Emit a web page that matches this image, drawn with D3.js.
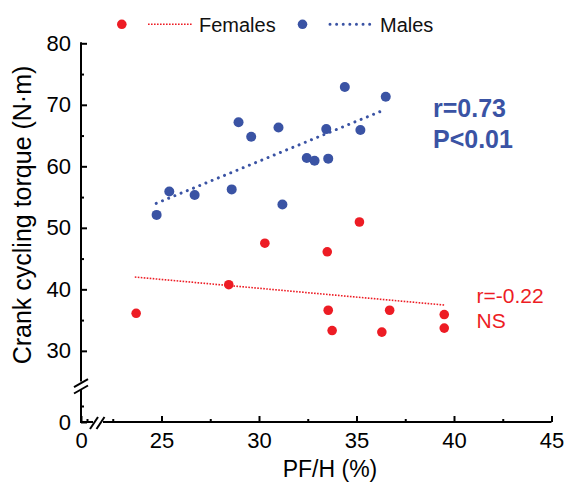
<!DOCTYPE html>
<html>
<head>
<meta charset="utf-8">
<script src="https://cdn.jsdelivr.net/npm/d3@7"></script>
<style>
  html, body { margin: 0; padding: 0; background: #fff; }
  svg { display: block; font-family: "Liberation Sans", Arial, Helvetica, sans-serif; }
</style>
</head>
<body>
<svg id="chart" width="567" height="484"></svg>
<script>
// ---- data ----
const femalesX = [23.7, 28.45, 30.3, 33.5, 35.15, 33.55, 36.7, 39.5, 33.75, 36.3, 39.5];
const femalesY = [36.1, 40.75, 47.5, 46.1, 50.95, 36.6, 36.6, 35.9, 33.3, 33.05, 33.7];
const malesX = [24.75, 25.4, 26.7, 28.6, 28.95, 29.6, 31.0, 31.2, 32.45, 32.85, 33.45, 33.55, 34.4, 35.2, 36.5];
const malesY = [52.1, 55.9, 55.35, 56.25, 67.15, 64.8, 66.3, 53.8, 61.35, 60.9, 66.05, 61.25, 72.9, 65.9, 71.3];
const femalesFitX = [23.63, 39.5];
const femalesFitY = [42.0, 37.45];
const malesFitX = [24.73, 36.5];
const malesFitY = [53.98, 69.27];
const xMajorTicks = [0, 25, 30, 35, 40, 45];
const xMinorTicks = [0.5, 22.5, 27.5, 32.5, 37.5, 42.5];
const yMajorTicks = [0, 30, 40, 50, 60, 70, 80];
const yMinorTicks = [2.5, 35, 45, 55, 65, 75];
const seriesNames = ["Females", "Males"];
const femaleStats = ["r=-0.22", "NS"];
const maleStats = ["r=0.73", "P<0.01"];
const xTitle = "PF/H (%)";
const yTitle = "Crank cycling torque (N\u00B7m)";

// ---- styles ----
const RED = "#ED1C24";
const BLUE = "#3A53A4";

const svg = d3.select("#chart");

// broken axes: polylinear scales
const x = d3.scaleLinear().domain([0, 1, 22, 45]).range([81, 93, 103, 551.5]);
const y = d3.scaleLinear().domain([0, 5, 25, 80]).range([422, 390, 381.6, 43.3]);

// axis lines (with gaps for the breaks)
const axisG = svg.append("g").attr("stroke", "#000").attr("stroke-width", 2).attr("fill", "none");
axisG.append("line").attr("x1", x(0)).attr("x2", x(1)).attr("y1", y(0)).attr("y2", y(0));
axisG.append("line").attr("x1", x(22)).attr("x2", x(45)).attr("y1", y(0)).attr("y2", y(0));
axisG.append("line").attr("x1", x(0)).attr("x2", x(0)).attr("y1", y(0) + 1).attr("y2", y(5));
axisG.append("line").attr("x1", x(0)).attr("x2", x(0)).attr("y1", y(25)).attr("y2", y(80) - 1);

// break marks
const bx0 = x(1), bx1 = x(22);
[bx0 + 1, bx1 - 2.5].forEach(cx => {
  axisG.append("line").attr("x1", cx - 4).attr("y1", y(0) + 7).attr("x2", cx + 4).attr("y2", y(0) - 5);
});
const by0 = y(25), by1 = y(5);
[by0 + 1.5, by1 - 0.5].forEach(cy => {
  axisG.append("line").attr("x1", x(0) - 7).attr("y1", cy + 4).attr("x2", x(0) + 7).attr("y2", cy - 4);
});

// x axis ticks
const xAxis = svg.append("g").attr("transform", `translate(0,${y(0)})`)
  .call(d3.axisBottom(x).tickValues(xMajorTicks).tickSizeInner(-6).tickSizeOuter(0).tickPadding(10.5).tickFormat(d3.format("d")));
const xAxisMinor = svg.append("g").attr("transform", `translate(0,${y(0)})`)
  .call(d3.axisBottom(x).tickValues(xMinorTicks).tickSizeInner(-3).tickSizeOuter(0).tickFormat(""));
const yAxis = svg.append("g").attr("transform", `translate(${x(0)},0)`)
  .call(d3.axisLeft(y).tickValues(yMajorTicks).tickSizeInner(-6).tickSizeOuter(0).tickPadding(10).tickFormat(d3.format("d")));
const yAxisMinor = svg.append("g").attr("transform", `translate(${x(0)},0)`)
  .call(d3.axisLeft(y).tickValues(yMinorTicks).tickSizeInner(-3).tickSizeOuter(0).tickFormat(""));
[xAxis, xAxisMinor, yAxis, yAxisMinor].forEach(g => {
  g.select(".domain").remove();
  g.selectAll(".tick line").attr("stroke", "#000").attr("stroke-width", 2);
  g.selectAll(".tick text").attr("font-size", 22).attr("fill", "#000")
    .attr("font-family", "Liberation Sans, Arial, sans-serif");
});

// axis titles
svg.append("text").attr("x", 330).attr("y", 477).attr("text-anchor", "middle")
  .attr("font-size", 23).attr("fill", "#000").text(xTitle);
svg.append("text").attr("transform", "translate(31,215) rotate(-90)").attr("text-anchor", "middle")
  .attr("font-size", 25).attr("fill", "#000").text(yTitle);

// fit lines
const line = d3.line().x(d => x(d[0])).y(d => y(d[1]));
svg.append("path").datum(d3.zip(femalesFitX, femalesFitY)).attr("d", line)
  .attr("fill", "none").attr("stroke", RED).attr("stroke-width", 1.6).attr("stroke-dasharray", "1.6 1.4");
svg.append("path").datum(d3.zip(malesFitX, malesFitY)).attr("d", line)
  .attr("fill", "none").attr("stroke", BLUE).attr("stroke-width", 3).attr("stroke-linecap", "round")
  .attr("stroke-dasharray", "0.01 6.7");

// points
svg.append("g").selectAll("circle").data(d3.zip(femalesX, femalesY)).join("circle")
  .attr("cx", d => x(d[0])).attr("cy", d => y(d[1])).attr("r", 4.8).attr("fill", RED);
svg.append("g").selectAll("circle").data(d3.zip(malesX, malesY)).join("circle")
  .attr("cx", d => x(d[0])).attr("cy", d => y(d[1])).attr("r", 5).attr("fill", BLUE);

// stats annotations
svg.append("text").attr("x", 433).attr("y", 117).attr("font-size", 25).attr("font-weight", "bold")
  .attr("fill", BLUE).text(maleStats[0]);
svg.append("text").attr("x", 433).attr("y", 148).attr("font-size", 25).attr("font-weight", "bold")
  .attr("fill", BLUE).text(maleStats[1]);
svg.append("text").attr("x", 476.5).attr("y", 302.5).attr("font-size", 21)
  .attr("fill", RED).text(femaleStats[0]);
svg.append("text").attr("x", 476.5).attr("y", 327.5).attr("font-size", 21)
  .attr("fill", RED).text(femaleStats[1]);

// legend
const leg = svg.append("g");
leg.append("circle").attr("cx", 121.8).attr("cy", 24.3).attr("r", 4.8).attr("fill", RED);
leg.append("line").attr("x1", 148).attr("x2", 193).attr("y1", 24.3).attr("y2", 24.3)
  .attr("stroke", RED).attr("stroke-width", 1.6).attr("stroke-dasharray", "1.6 1.4");
leg.append("text").attr("x", 199).attr("y", 31.8).attr("font-size", 20).attr("fill", "#111").text(seriesNames[0]);
leg.append("circle").attr("cx", 302.5).attr("cy", 24.3).attr("r", 4.8).attr("fill", BLUE);
leg.append("line").attr("x1", 330).attr("x2", 376).attr("y1", 24.3).attr("y2", 24.3)
  .attr("stroke", BLUE).attr("stroke-width", 3).attr("stroke-linecap", "round").attr("stroke-dasharray", "0.01 6.6");
leg.append("text").attr("x", 380).attr("y", 31.8).attr("font-size", 20).attr("fill", "#111").text(seriesNames[1]);
</script>
</body>
</html>
